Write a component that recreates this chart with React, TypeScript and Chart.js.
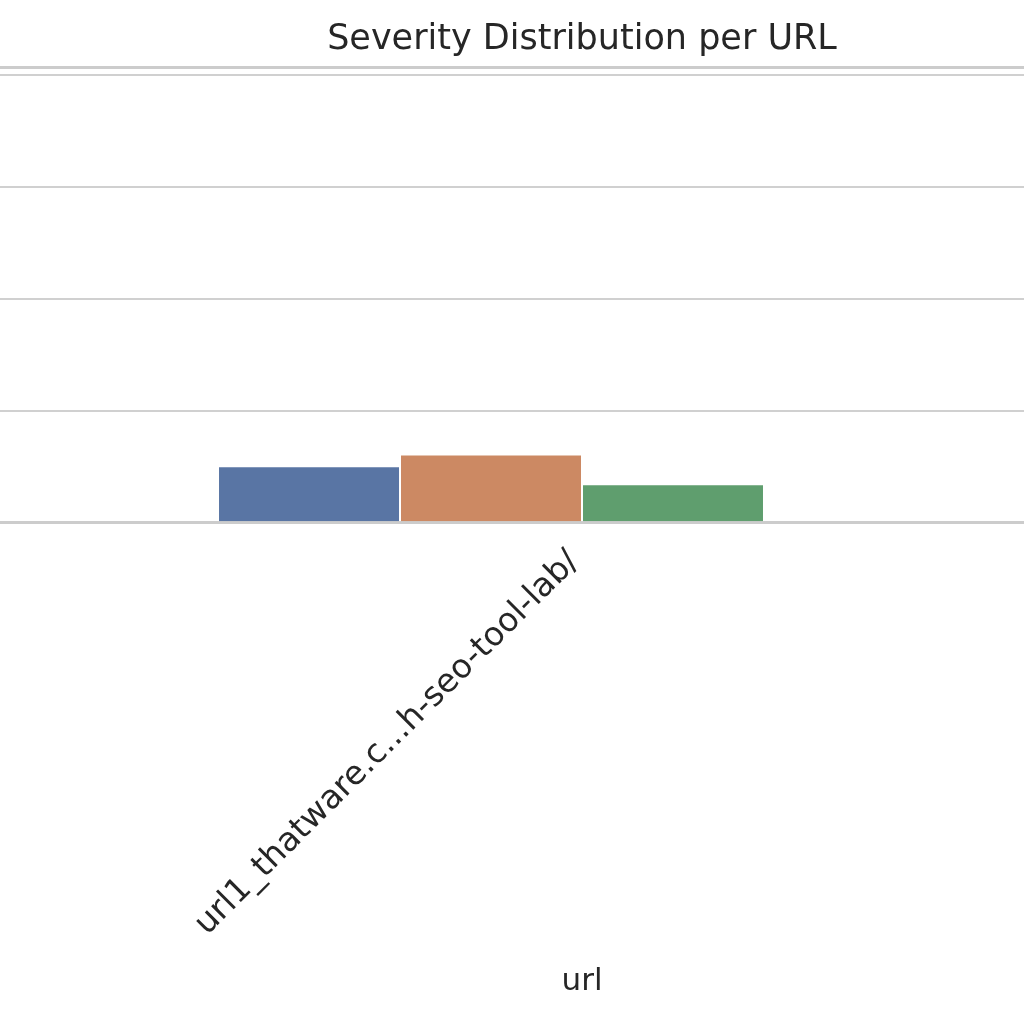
import React, { useEffect, useRef } from "react";
import { Chart, registerables } from "chart.js";

Chart.register(...registerables);

const TITLE = "Severity Distribution per URL";
const X_TITLE = "url";
const CATEGORIES = ["url1_thatware.c...h-seo-tool-lab/"];
const SEVERITIES = ["Low", "Medium", "High", "Critical"];
const LOW_VALUES = [5.05];
const MEDIUM_VALUES = [6.1];
const HIGH_VALUES = [3.45];
const CRITICAL_VALUES: (number | null)[] = [null];
const Y_TICKS = [0, 10, 20, 30, 40];
const Y_MAX = 40.7;

const COLORS = ["#5975a4", "#cc8963", "#5f9e6e", "#b55d60"];
const SERIES = [LOW_VALUES, MEDIUM_VALUES, HIGH_VALUES, CRITICAL_VALUES];

const FONT = "'DejaVu Sans', 'Liberation Sans', sans-serif";
const TEXT = "#262626";
const GRID = "#d0d0d0";

export default function App() {
  const ref = useRef<HTMLCanvasElement | null>(null);

  useEffect(() => {
    if (!ref.current) return;
    document.body.style.margin = "0";
    const chart = new Chart(ref.current, {
      type: "bar",
      data: {
        labels: CATEGORIES,
        datasets: SEVERITIES.map((name, i) => ({
          label: name,
          data: SERIES[i],
          backgroundColor: COLORS[i],
          borderColor: "#ffffff",
          borderWidth: 1,
          categoryPercentage: 0.6254,
          barPercentage: 1.0,
        })),
      },
      options: {
        responsive: false,
        animation: false,
        devicePixelRatio: 1,
        layout: { padding: { left: 0, right: 0, top: 0, bottom: 11 } },
        plugins: {
          legend: { display: false },
          tooltip: { enabled: false },
          title: {
            display: true,
            text: TITLE,
            color: TEXT,
            font: { family: FONT, size: 35, weight: "normal" },
            padding: { top: 19, bottom: 6 },
          },
        },
        scales: {
          x: {
            type: "category",
            grid: { display: false, drawTicks: false },
            border: { display: true, color: "#cccccc", width: 3 },
            ticks: {
              color: TEXT,
              font: { family: FONT, size: 33 },
              maxRotation: 45,
              minRotation: 45,
              padding: 20,
              labelOffset: -8,
              autoSkip: false,
            },
            title: {
              display: true,
              text: X_TITLE,
              color: TEXT,
              font: { family: FONT, size: 31 },
              padding: { top: 0, bottom: 12 },
            },
          },
          y: {
            min: 0,
            max: Y_MAX,
            afterBuildTicks: (scale: any) => {
              scale.ticks = [...Y_TICKS, Y_MAX].map((v) => ({ value: v }));
            },
            ticks: { display: false },
            border: { display: false },
            grid: {
              drawTicks: false,
              color: (ctx: any) =>
                ctx.tick && (ctx.tick.value === Y_MAX || ctx.tick.value === 0) ? "#cccccc" : GRID,
              lineWidth: (ctx: any) =>
                ctx.tick && (ctx.tick.value === Y_MAX || ctx.tick.value === 0) ? 3 : 2,
            },
          },
        },
      },
    });
    return () => chart.destroy();
  }, []);

  return (
    <div
      style={{
        position: "fixed",
        left: 0,
        top: 0,
        width: 1024,
        height: 1024,
        overflow: "hidden",
        background: "#ffffff",
      }}
    >
      <canvas ref={ref} width={1164} height={1024} style={{ width: 1164, height: 1024, display: "block" }} />
    </div>
  );
}
